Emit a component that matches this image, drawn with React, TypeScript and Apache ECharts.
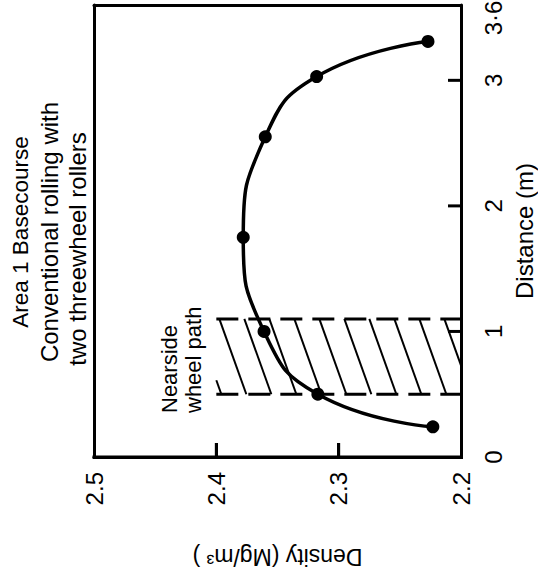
import React, { useEffect, useRef } from "react";
import * as echarts from "echarts";

// Measured points (density in Mg/m3, distance in m)
const distance = [0.24, 0.5, 1.0, 1.75, 2.55, 3.03, 3.31];
const density = [2.223, 2.317, 2.361, 2.378, 2.36, 2.318, 2.227];

// Nearside wheel path band: [densityFrom, densityTo, distanceFrom, distanceTo]
const wheelPath = [[2.4, 2.2, 0.5, 1.1]];

// Inner tick marks
const densityTicks = [2.3, 2.4];
const distanceTicks = [1, 2, 3];
// Lower border of the frame [density, distance]
const lowerBorder = [[2.5, 0], [2.2, 0]];

const titleLines = ["Area 1 Basecourse", "Conventional rolling with", "two threewheel rollers"];
const wheelPathLabel = "Nearside\nwheel path";
const densityName = "Density (Mg/m\u00B3 )";
const distanceName = "Distance (m)";

const FONT = "'Liberation Sans', Arial, Helvetica, sans-serif";

export default function App() {
  const ref = useRef<HTMLDivElement>(null);
  const overlayRef = useRef<HTMLDivElement>(null);
  useEffect(() => {
    if (!ref.current) return;
    const chart = echarts.init(ref.current, null, { renderer: "svg" });
    const hatchRender = (params: any, api: any) => {
      const a = api.coord([api.value(0), api.value(2)]);
      const b = api.coord([api.value(1), api.value(3)]);
      const left = Math.min(a[0], b[0]);
      const right = Math.max(a[0], b[0]);
      const top = Math.min(a[1], b[1]);
      const bottom = Math.max(a[1], b[1]);
      const h = bottom - top;
      const shift = 27;
      const step = 25;
      const children: any[] = [];
      for (let s = left + 3 - step * 3; s < right; s += step) {
        let x1 = s, y1 = top, x2 = s + shift, y2 = bottom;
        if (x1 < left) {
          y1 = top + ((left - s) / shift) * h;
          x1 = left;
        }
        if (x2 > right) {
          y2 = top + ((right - s) / shift) * h;
          x2 = right;
        }
        if (x2 <= x1 || y2 <= y1) continue;
        children.push({
          type: "line",
          shape: { x1, y1, x2, y2 },
          style: { stroke: "#000", lineWidth: 2 },
        });
      }
      [top, bottom].forEach((y) => {
        children.push({
          type: "line",
          shape: { x1: left, y1: y, x2: right, y2: y },
          style: { stroke: "#000", lineWidth: 3, lineDash: [22, 10] },
        });
      });
      return { type: "group", children };
    };

    const yTickRender = (params: any, api: any) => {
      const p = api.coord([api.value(0), api.value(1)]);
      return {
        type: "line",
        shape: { x1: p[0], y1: p[1], x2: p[0] - 13, y2: p[1] },
        style: { stroke: "#000", lineWidth: 3 },
      };
    };

    const titleGraphics = titleLines.map((t, i) => ({
      type: "text",
      x: [20, 49, 77][i],
      y: [232, 232, 249][i],
      rotation: Math.PI / 2,
      style: {
        text: t,
        font: `${i === 0 ? 22.5 : 24}px ${FONT}`,
        fill: "#000",
        align: "center",
        verticalAlign: "middle",
      },
    }));
    const nearsideGraphic = {
      type: "text",
      x: 157,
      y: 413,
      rotation: Math.PI / 2,
      style: {
        text: wheelPathLabel,
        font: `22px ${FONT}`,
        fill: "#000",
        lineHeight: 24,
        align: "left",
        verticalAlign: "top",
      },
    };

    const mkLine = () => ({ show: true, onZero: false, lineStyle: { color: "#000", width: 3 } });

    chart.setOption({
      animation: false,
      grid: {
        left: 94,
        right: 77,
        top: 5,
        bottom: 127,
        outerBoundsMode: "none",
        containLabel: false,
      },
      xAxis: [
        {
          type: "value",
          min: 2.2,
          max: 2.5,
          splitNumber: 3,
          inverse: true,
          position: "bottom",
          splitLine: { show: false },
          axisLine: mkLine(),
          axisTick: { show: false },
          axisLabel: {
            rotate: 90,
            margin: 15,
            fontSize: 24,
            fontFamily: FONT,
            color: "#000",
            formatter: (v: number) => v.toFixed(1),
          },
          name: densityName,
          nameLocation: "middle",
          nameRotate: 180,
          nameGap: 88,
          nameTextStyle: { fontSize: 23, fontFamily: FONT, color: "#000" },
        },
        {
          type: "value",
          min: 2.2,
          max: 2.5,
          splitNumber: 3,
          inverse: true,
          position: "top",
          splitLine: { show: false },
          axisLine: mkLine(),
          axisTick: { show: false },
          axisLabel: { show: false },
        },
      ],
      yAxis: [
        {
          type: "value",
          min: 0,
          max: 3.6,
          interval: 1,
          position: "right",
          splitLine: { show: false },
          axisLine: mkLine(),
          axisTick: { show: false },
          axisLabel: {
            rotate: 90,
            margin: 20,
            fontSize: 24,
            fontFamily: FONT,
            color: "#000",
            formatter: (v: number) => (Math.abs(v - 3.6) < 1e-6 ? "{top|3\u00B76}" : String(v)),
            rich: {
              top: { fontSize: 24, fontFamily: FONT, color: "#000", padding: [0, 26, 0, 0] },
            },
          },
          name: distanceName,
          nameLocation: "middle",
          nameRotate: 90,
          nameGap: 45,
          nameTextStyle: { fontSize: 24, fontFamily: FONT, color: "#000" },
        },
        {
          type: "value",
          min: 0,
          max: 3.6,
          interval: 1,
          position: "left",
          splitLine: { show: false },
          axisLine: mkLine(),
          axisTick: { show: false },
          axisLabel: { show: false },
        },
      ],
      graphic: [...titleGraphics, nearsideGraphic],
      series: [
        {
          type: "custom",
          renderItem: hatchRender,
          data: wheelPath,
          encode: { x: [0, 1], y: [2, 3] },
          clip: false,
          silent: true,
          z: 1,
        },
        {
          type: "custom",
          renderItem: yTickRender,
          data: distanceTicks.map((v) => [2.2, v]),
          encode: { x: 0, y: 1 },
          clip: false,
          silent: true,
          z: 10,
        },
        {
          type: "line",
          data: density.map((d, i) => [d, distance[i]]),
          smooth: 0.5,
          symbol: "circle",
          symbolSize: 13,
          itemStyle: { color: "#000" },
          lineStyle: { color: "#000", width: 3.5 },
          z: 3,
        },
      ],
    });

    // Lower frame edge and density ticks, placed through the chart's own scales
    const toPx = (p: number[]) => chart.convertToPixel({ gridIndex: 0 }, p) as number[];
    const a = toPx(lowerBorder[0]);
    const b = toPx(lowerBorder[1]);
    const tickPx = densityTicks.map((v) => toPx([v, 0]));
    chart.setOption({
      graphic: [
        ...titleGraphics,
        nearsideGraphic,
        {
          type: "line",
          z: 100,
          shape: { x1: a[0] - 1.5, y1: a[1], x2: b[0] + 1.5, y2: b[1] },
          style: { stroke: "#000", lineWidth: 3 },
        },
        ...tickPx.map((p) => ({
          type: "line",
          z: 100,
          shape: { x1: p[0], y1: p[1], x2: p[0], y2: p[1] - 14 },
          style: { stroke: "#000", lineWidth: 3 },
        })),
      ],
    });

    // Same lower edge and ticks mirrored in an overlay layer above the SVG
    const overlay = overlayRef.current;
    if (overlay) {
      overlay.innerHTML = "";
      const edge = document.createElement("div");
      Object.assign(edge.style, {
        position: "absolute",
        left: `${a[0] - 1.5}px`,
        top: `${a[1] - 1.5}px`,
        width: `${b[0] - a[0] + 3}px`,
        height: "3px",
        background: "#000",
      });
      overlay.appendChild(edge);
      tickPx.forEach((p) => {
        const t = document.createElement("div");
        Object.assign(t.style, {
          position: "absolute",
          left: `${p[0] - 1.5}px`,
          top: `${p[1] - 14}px`,
          width: "3px",
          height: "14px",
          background: "#000",
        });
        overlay.appendChild(t);
      });
    }

    return () => {
      if (overlay) overlay.innerHTML = "";
      chart.dispose();
    };
  }, []);
  return (
    <div style={{ position: "fixed", left: 0, top: 0, width: 538, height: 584, background: "#fff" }}>
      <div ref={ref} style={{ width: 538, height: 584 }} />
      <div
        ref={overlayRef}
        style={{ position: "absolute", left: 0, top: 0, width: 538, height: 584, pointerEvents: "none", zIndex: 5 }}
      />
    </div>
  );
}
